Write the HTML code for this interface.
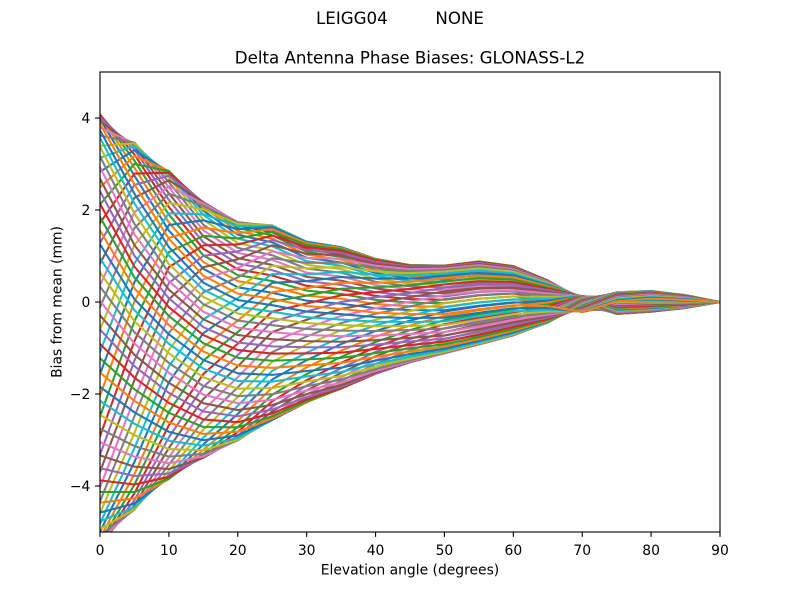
<!DOCTYPE html>
<html>
<head>
<meta charset="utf-8">
<style>
  html, body { margin:0; padding:0; background:#ffffff; }
  svg { display:block; }
  text { font-family: "DejaVu Sans", "Liberation Sans", sans-serif; fill:#000; }
</style>
</head>
<body>
<svg id="fig" xmlns="http://www.w3.org/2000/svg" width="800" height="600" viewBox="0 0 800 600">
  <rect x="0" y="0" width="800" height="600" fill="#ffffff"/>
  <defs>
    <clipPath id="axclip"><rect x="100" y="72" width="620" height="460"/></clipPath>
  </defs>
  <g id="lines" clip-path="url(#axclip)" fill="none" stroke-width="2.08" stroke-linejoin="round" stroke-linecap="square"></g>

  <!-- spines -->
  <rect x="100" y="72" width="620" height="460" fill="none" stroke="#000" stroke-width="1.11"/>

  <!-- ticks -->
  <g stroke="#000" stroke-width="1.11">
    <line x1="100" y1="532" x2="100" y2="536.9"/>
    <line x1="168.89" y1="532" x2="168.89" y2="536.9"/>
    <line x1="237.78" y1="532" x2="237.78" y2="536.9"/>
    <line x1="306.67" y1="532" x2="306.67" y2="536.9"/>
    <line x1="375.56" y1="532" x2="375.56" y2="536.9"/>
    <line x1="444.44" y1="532" x2="444.44" y2="536.9"/>
    <line x1="513.33" y1="532" x2="513.33" y2="536.9"/>
    <line x1="582.22" y1="532" x2="582.22" y2="536.9"/>
    <line x1="651.11" y1="532" x2="651.11" y2="536.9"/>
    <line x1="720" y1="532" x2="720" y2="536.9"/>
    <line x1="95.1" y1="486" x2="100" y2="486"/>
    <line x1="95.1" y1="394" x2="100" y2="394"/>
    <line x1="95.1" y1="302" x2="100" y2="302"/>
    <line x1="95.1" y1="210" x2="100" y2="210"/>
    <line x1="95.1" y1="118" x2="100" y2="118"/>
  </g>

  <g font-size="13.89" text-anchor="middle">
    <text x="100" y="555">0</text>
    <text x="168.89" y="555">10</text>
    <text x="237.78" y="555">20</text>
    <text x="306.67" y="555">30</text>
    <text x="375.56" y="555">40</text>
    <text x="444.44" y="555">50</text>
    <text x="513.33" y="555">60</text>
    <text x="582.22" y="555">70</text>
    <text x="651.11" y="555">80</text>
    <text x="720" y="555">90</text>
  </g>
  <g font-size="13.89" text-anchor="end">
    <text x="90.3" y="491">−4</text>
    <text x="90.3" y="399">−2</text>
    <text x="90.3" y="307">0</text>
    <text x="90.3" y="215">2</text>
    <text x="90.3" y="123">4</text>
  </g>

  <text x="410" y="574.5" font-size="13.89" text-anchor="middle">Elevation angle (degrees)</text>
  <text transform="translate(61.5,302) rotate(-90)" font-size="13.89" text-anchor="middle">Bias from mean (mm)</text>

  <text x="410" y="63.7" font-size="16.67" text-anchor="middle">Delta Antenna Phase Biases: GLONASS-L2</text>
  <text x="400" y="24" font-size="16.67" text-anchor="middle" style="white-space:pre" xml:space="preserve">LEIGG04         NONE</text>
</svg>
<script>
(function(){
  var NS = "http://www.w3.org/2000/svg";
  var g = document.getElementById('lines');
  var colors = ['#1f77b4','#ff7f0e','#2ca02c','#d62728','#9467bd','#8c564b','#e377c2','#7f7f7f','#bcbd22','#17becf'];
  var E = [0,5,10,15,20,25,30,35,40,45,50,55,60,65,70,75,80,85,90];
  var T = [4.0,3.4,2.83,2.2,1.8,1.75,1.4,1.28,1.02,0.88,0.86,0.93,0.83,0.5,0.15,0.21,0.24,0.15,0];
  var B = [-5.2,-4.35,-3.65,-3.2,-2.85,-2.42,-2.05,-1.78,-1.47,-1.23,-1.05,-0.88,-0.68,-0.42,-0.2,-0.26,-0.21,-0.13,0];
  var PHI = [0,20,40,55,65,75,80,85,90,95,100,100,100,105,185,275,280,280,280];
  var C = [0.5,0.55,0.5,0.4,0.3,0.25,0.2,0.15,0.12,0.1,0.08,0.05,0.05,0.03,0.02,0,0,0,0];
  var N = 72;
  for (var i = 0; i < N; i++) {
    var a = i * 5;
    var d = '';
    for (var k = 0; k < E.length; k++) {
      var m = (T[k] + B[k]) / 2;
      var A = (T[k] - B[k]) / 2 - 0.05 * C[k];
      var psi = 2 * PHI[k] + 90 + k * 6;
      var v = m + A * Math.cos((a - PHI[k]) * Math.PI / 180)
                + C[k] * Math.cos((2 * a - psi) * Math.PI / 180);
      var x = 100 + E[k] * 620 / 90;
      var y = 302 - v * 46;
      d += (k === 0 ? 'M' : 'L') + x.toFixed(2) + ' ' + y.toFixed(2);
    }
    var p = document.createElementNS(NS, 'path');
    p.setAttribute('d', d);
    p.setAttribute('stroke', colors[i % 10]);
    g.appendChild(p);
  }
})();
</script>
</body>
</html>
